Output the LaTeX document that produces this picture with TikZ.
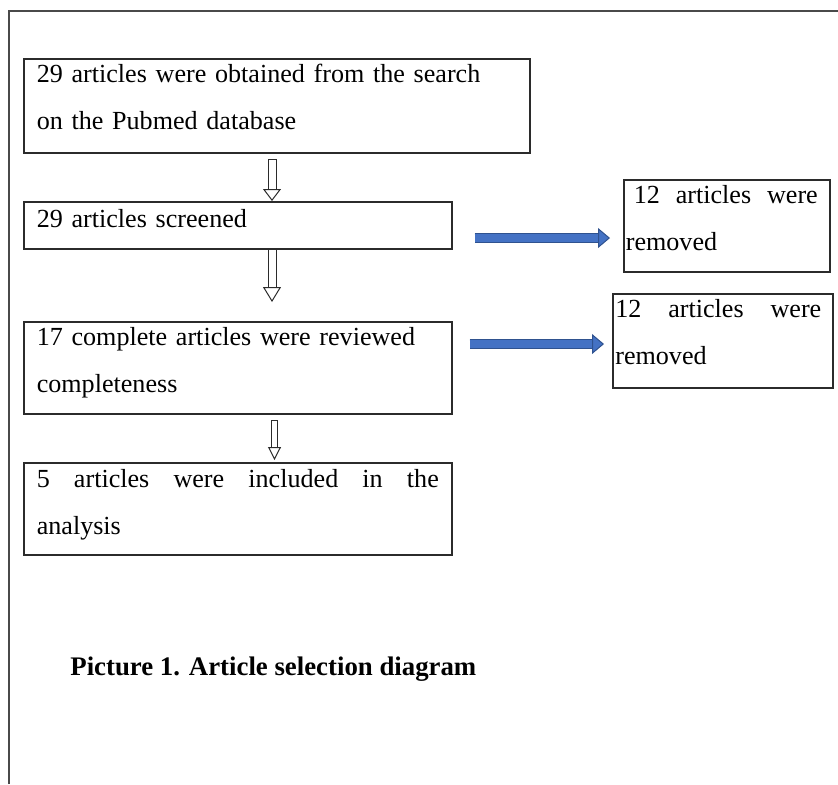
\documentclass[tikz,border=0pt]{standalone}
\usepackage{fontspec}
\setmainfont{Liberation Serif}
\usetikzlibrary{arrows.meta,positioning,calc}
\definecolor{boxline}{HTML}{2B2B2B}
\definecolor{frameline}{HTML}{4A4A4A}
\definecolor{dropfill}{HTML}{4472C4}
\definecolor{dropline}{HTML}{2F528F}

\begin{document}
\begin{tikzpicture}[
  x=0.5pt, y=-0.5pt,
  font=\fontsize{13.05}{23.5}\selectfont,
  stage/.style = {draw=boxline, line width=0.8pt, anchor=north west, align=left,
                  inner xsep=6.5pt, inner ysep=0pt, text width=201pt},
  side/.style  = {draw=boxline, line width=0.8pt, anchor=north west, align=left,
                  inner ysep=0pt},
  down/.style  = {draw=boxline, line width=0.5pt, double=white, double distance=3.5pt,
                  line cap=rect, -{Triangle[length=6pt, width=9pt, fill=white]}},
  drop/.style  = {draw=dropline, line width=0.5pt, double=dropfill, double distance=4pt,
                  -{Triangle[length=6pt, width=10pt, fill=dropfill]}},
  caption/.style = {font=\fontsize{13.4}{16}\selectfont\bfseries, anchor=base west, inner sep=0pt},
]
\useasboundingbox (0,0) rectangle (838,784);

% --- the page frame ----------------------------------------------------------------------------
\draw[frameline, line width=1pt] (9,784) -- (9,11) -- (838,11);

% --- the column of four steps --------------------------------------------------------------------
\node[stage, text width=240pt, text height=12pt, text depth=35pt] (search) at (23,58)
     {29 articles were obtained from the search\\on the Pubmed database};
\node[stage, text height=13pt, text depth=10.5pt]  (screen)  at (23,201) {29 articles screened};
\node[stage, text height=12pt, text depth=34pt]    (review)  at (23,321)
     {17 complete articles were reviewed\\completeness};
\node[stage, text height=12.5pt, text depth=33.5pt] (include) at (23,462)
     {\makebox[201pt]{5\hfill articles\hfill were\hfill included\hfill in\hfill the}\\analysis};

% --- the two removals on the right ----------------------------------------------------------------
\node[side, inner xsep=1pt, text width=101pt, text height=12pt, text depth=34pt] (dropA) at (623,179)
     {\hspace*{4pt}\makebox[92pt]{12\hfill articles\hfill were}\\removed};
\node[side, inner xsep=1.25pt, text width=107.5pt, text height=12pt, text depth=35pt] (dropB) at (612,293)
     {\makebox[103pt]{12\hfill articles\hfill were}\\removed};

\node[caption] (cap) at (70,675) {Picture 1. Article selection diagram};

% --- down the column -------------------------------------------------------------------------------
\coordinate (colA) at (272,0);
\coordinate (colB) at (274.5,0);
\draw[down] ($(search.south -| colA)+(0,9.5)$) -- (screen.north -| colA);
\draw[down, -{Triangle[length=7.5pt, width=9pt, fill=white]}]
     ($(screen.south -| colA)+(0,4)$) -- ($(review.north -| colA)+(0,-19)$);
\draw[down, double distance=2.5pt, -{Triangle[length=6.5pt, width=6.5pt, fill=white]}]
     ($(review.south -| colB)+(0,9)$) -- ($(include.north -| colB)+(0,-2)$);

% --- out to the removals ---------------------------------------------------------------------------
\coordinate (rowA) at (0,238);
\coordinate (rowB) at (0,344);
\draw[drop] ($(screen.east |- rowA)+(22,0)$) -- ($(dropA.west |- rowA)+(-13,0)$);
\draw[drop] ($(review.east |- rowB)+(17,0)$) -- ($(dropB.west |- rowB)+(-8,0)$);

\end{tikzpicture}
\end{document}
